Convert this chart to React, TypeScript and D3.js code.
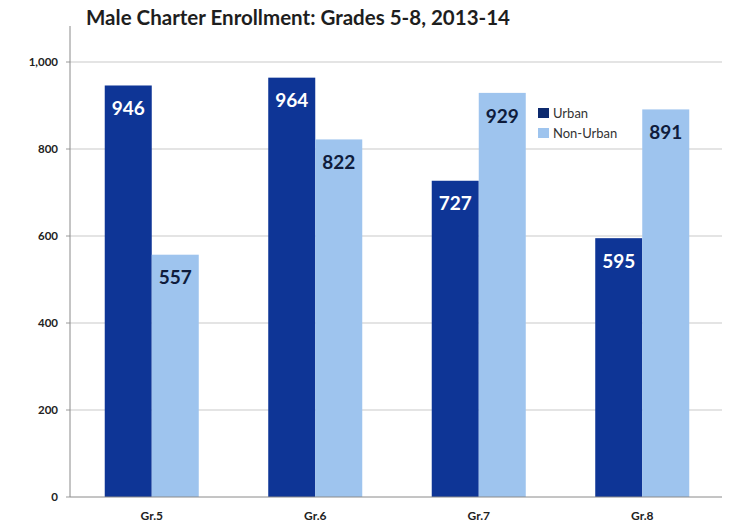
import React from "react";
import * as d3 from "d3";

const grades = ["Gr.5", "Gr.6", "Gr.7", "Gr.8"];
const seriesNames = ["Urban", "Non-Urban"];
const urban = [946, 964, 727, 595];
const nonUrban = [557, 822, 929, 891];
const yTicks = [0, 200, 400, 600, 800, 1000];
const title = "Male Charter Enrollment: Grades 5-8, 2013-14";

const colors = ["#0e3596", "#9ec4ee"];
const labelColors = ["#ffffff", "#0f1c3c"];

export default function App() {
  const W = 729, H = 530;
  const left = 70, right = 724, top = 62, bottom = 497;
  const x0 = d3.scaleBand<string>().domain(grades).range([left, right]).paddingInner(0.425).paddingOuter(0.2125);
  const x1 = d3.scaleBand<string>().domain(seriesNames).range([0, x0.bandwidth()]);
  const y = d3.scaleLinear().domain([0, 1000]).range([bottom, top]);
  const fmt = d3.format(",");
  const values = [urban, nonUrban];
  const font = "Lato, 'Open Sans', sans-serif";

  return (
    <svg width={W} height={H} style={{ position: "absolute", left: 0, top: 0, background: "#ffffff" }} fontFamily={font}>
      <text x={86} y={25} fontSize={20.5} fontWeight={700} fill="#1e1e1e" textLength={424} lengthAdjust="spacingAndGlyphs">{title}</text>
      {yTicks.map((t) => (
        <g key={t}>
          {t > 0 && <line x1={left} x2={722} y1={y(t)} y2={y(t)} stroke="#c9c9c9" strokeWidth={1} />}
          <line x1={left - 4} x2={left} y1={y(t)} y2={y(t)} stroke="#9a9a9a" strokeWidth={1} />
          <text x={58} y={y(t)} dy="0.35em" textAnchor="end" fontSize={11.5} fontWeight={700} fill="#222">{fmt(t)}</text>
        </g>
      ))}
      <line x1={left} x2={left} y1={26} y2={bottom} stroke="#8a8a8a" strokeWidth={1} />
      {grades.map((g, i) => (
        <g key={g}>
          {seriesNames.map((s, j) => {
            const v = values[j][i];
            const bx = (x0(g) as number) + (x1(s) as number);
            const bw = x1.bandwidth();
            return (
              <g key={s}>
                <rect x={bx} y={y(v)} width={bw} height={bottom - y(v)} fill={colors[j]} />
                <text x={bx + bw / 2} y={y(v) + 23} dy="0.35em" textAnchor="middle" fontSize={19} fontWeight={700} fill={labelColors[j]}>{v}</text>
              </g>
            );
          })}
          <text x={(x0(g) as number) + x0.bandwidth() / 2} y={516} dy="0.35em" textAnchor="middle" fontSize={12} fontWeight={700} fill="#222">{g}</text>
        </g>
      ))}
      <line x1={left} x2={722} y1={bottom} y2={bottom} stroke="#8a8a8a" strokeWidth={1} />
      {seriesNames.map((s, j) => (
        <g key={s} transform={`translate(538, ${108 + j * 20})`}>
          <rect x={0} y={0} width={11} height={10} fill={j === 0 ? "#0d2a6e" : colors[1]} />
          <text x={15} y={5} dy="0.35em" fontSize={13} fill="#333">{s}</text>
        </g>
      ))}
    </svg>
  );
}
